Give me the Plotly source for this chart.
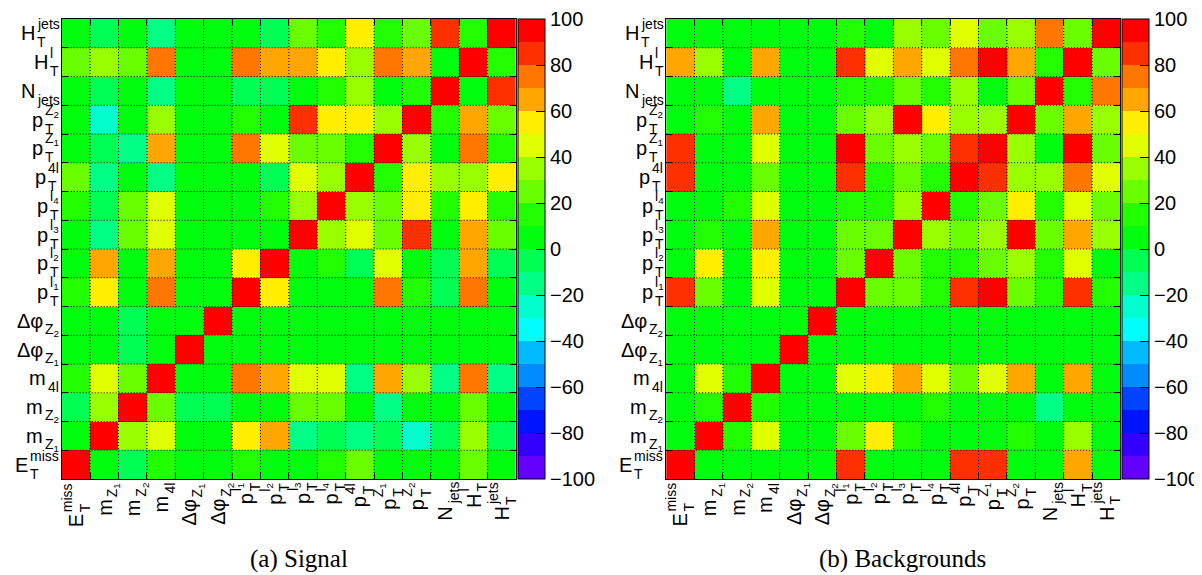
import colorsys
import plotly.graph_objects as go

# ---------------- data ----------------
# variables, bottom-to-top on y and left-to-right on x
var_base = ["E", "m", "m", "m", "Δφ", "Δφ", "p", "p", "p", "p", "p", "p", "p", "N", "H", "H"]
var_sub = ["T", "Z<sub>1</sub>", "Z<sub>2</sub>", "4l", "Z<sub>1</sub>", "Z<sub>2</sub>",
           "T", "T", "T", "T", "T", "T", "T", "jets", "T", "T"]
var_sup = ["miss", "", "", "", "", "", "l<sub>1</sub>", "l<sub>2</sub>", "l<sub>3</sub>",
           "l<sub>4</sub>", "4l", "Z<sub>1</sub>", "Z<sub>2</sub>", "", "l", "jets"]

# correlation (%) upper triangles: row i holds values for columns i+1 .. 15
signal_upper = [
    [4, -5, 13, 4, 3, 14, 6, 5, 12, 25, 9, 9, 5, 25, 8],          # E_T^miss
    [35, 45, 3, 3, 55, 65, -15, -5, -15, -5, -25, -5, 35, -5],     # m_Z1
    [25, -5, -5, 5, 8, 25, 25, 5, -13, 5, 5, 25, 5],               # m_Z2
    [5, 5, 75, 65, 45, 45, -15, 65, 35, -15, 75, -15],             # m_4l
    [3, 3, 2, 2, 3, 2, 3, 2, 2, 3, 2],                             # dphi_Z1
    [2, 3, 2, 2, 3, 2, 2, 3, 2, 2],                                # dphi_Z2
    [55, 5, 5, 5, 75, 12, -5, 75, 5],                              # pT l1
    [5, 15, -5, 45, 5, -5, 65, -5],                                # pT l2
    [35, 45, 25, 85, 8, 65, 25],                                   # pT l3
    [35, 25, 55, 15, 55, 15],                                      # pT l4
    [15, 55, 35, 35, 55],                                          # pT 4l
    [35, 5, 75, 15],                                               # pT Z1
    [15, 65, 25],                                                  # pT Z2
    [5, 85],                                                       # N jets
    [15],                                                          # HT l
]
background_upper = [
    [5, 5, 5, 3, 3, 85, 5, 5, 5, 85, 85, 5, 5, 65, 5],             # E_T^miss
    [15, 45, 3, 3, 25, 55, 15, 5, 5, 10, 15, 5, 35, 5],            # m_Z1
    [15, 3, 3, 5, 5, 5, 12, 5, 5, 5, -15, 5, 5],                   # m_Z2
    [3, 3, 45, 55, 65, 45, 25, 45, 65, 5, 65, 10],                 # m_4l
    [2, 2, 2, 2, 2, 2, 2, 2, 2, 2, 2],                             # dphi_Z1
    [2, 2, 2, 2, 2, 2, 2, 2, 2, 2],                                # dphi_Z2
    [25, 25, 15, 85, 95, 25, 15, 85, 15],                          # pT l1
    [25, 12, 15, 25, 35, 12, 45, 10],                              # pT l2
    [35, 25, 35, 95, 25, 65, 35],                                  # pT l3
    [12, 25, 55, 15, 45, 25],                                      # pT l4
    [85, 35, 35, 75, 45],                                          # pT 4l
    [35, 10, 95, 25],                                              # pT Z1
    [25, 65, 35],                                                  # pT Z2
    [15, 75],                                                      # N jets
    [25],                                                          # HT l
]
diag_value = 100
colorbar_ticks = [-100, -80, -60, -40, -20, 0, 20, 40, 60, 80, 100]
captions = ["(a) Signal", "(b) Backgrounds"]


def full_matrix(upper):
    n = len(upper) + 1
    m = [[0] * n for _ in range(n)]
    for i in range(n):
        m[i][i] = diag_value
    for i, row in enumerate(upper):
        for k, v in enumerate(row):
            j = i + 1 + k
            m[i][j] = v
            m[j][i] = v
    return m


signal = full_matrix(signal_upper)
background = full_matrix(background_upper)
N = len(var_base)

# ---------------- style ----------------
W, H = 1202, 575
TOP, BOT = 11, 471
panels = [dict(x0=54, x1=511, cb=513, cap=293), dict(x0=662, x1=1119, cb=1121, cap=900)]
FONT = "Liberation Sans"

# ROOT "pretty" palette with 20 contour levels
palette = []
for k in range(20):
    idx = int((k + 0.99) * 50 / 20)
    hue = 280 - (idx + 1) * 280 / 50
    r, g, b = colorsys.hls_to_rgb(hue / 360.0, 0.5, 1.0)
    palette.append(f"rgb({round(r*255)},{round(g*255)},{round(b*255)})")
colorscale = []
for k, c in enumerate(palette):
    colorscale.append([k / 20, c])
    colorscale.append([(k + 1) / 20, c])

CW = {'E': .667, 'T': .611, 'm': .833, 'i': .222, 's': .5, 'Z': .611, '1': .556, '2': .556,
      '3': .556, '4': .556, 'l': .222, 'j': .222, 'e': .556, 't': .278}


def tw(s, size):
    w, scale, i = 0.0, 1.0, 0
    while i < len(s):
        if s.startswith('<sub>', i):
            scale = 0.7; i += 5; continue
        if s.startswith('</sub>', i):
            scale = 1.0; i += 6; continue
        w += CW.get(s[i], .6) * size * scale
        i += 1
    return w


BASE_SZ, SCR_SZ = 20, 14
SHIFT = 9
fig = go.Figure()
annotations = []
shapes = []

for p, (panel, mat) in enumerate(zip(panels, [signal, background])):
    xa = 'x' if p == 0 else 'x2'
    ya = 'y' if p == 0 else 'y2'
    fig.add_trace(go.Heatmap(
        z=mat, x=list(range(N)), y=list(range(N)), xaxis=xa, yaxis=ya,
        zmin=-100, zmax=100, colorscale=colorscale, hoverinfo='skip',
        colorbar=dict(x=panel['cb'] / W, xanchor='left', y=(H - BOT) / H, yanchor='bottom',
                      len=(BOT - TOP) / H, lenmode='fraction', thickness=27, thicknessmode='pixels',
                      outlinewidth=1, outlinecolor='black', tickmode='array', tickvals=colorbar_ticks,
                      ticks='inside', ticklen=9, tickwidth=1, tickcolor='black',
                      tickfont=dict(family=FONT, size=20, color='black'), xpad=0, ypad=0),
    ))
    axcfg = dict(range=[-0.5, N - 0.5], showticklabels=False, tickmode='array',
                 tickvals=[k - 0.5 for k in range(N + 1)], ticks='inside', ticklen=6, tickwidth=1,
                 tickcolor='black', showline=True, linecolor='black', linewidth=1, mirror='ticks',
                 showgrid=False, zeroline=False, layer='above traces', fixedrange=True)
    sfx = '' if p == 0 else '2'
    fig.update_layout(**{
        'xaxis' + sfx: dict(axcfg, domain=[panel['x0'] / W, panel['x1'] / W], anchor=ya),
        'yaxis' + sfx: dict(axcfg, domain=[(H - BOT) / H, (H - TOP) / H], anchor=xa),
    })
    # dotted grid at cell boundaries
    for k in range(1, N):
        shapes.append(dict(type='line', xref=xa, yref=ya, x0=k - 0.5, x1=k - 0.5, y0=-0.5, y1=N - 0.5,
                           line=dict(color='black', width=1, dash='1px,2px'), layer='above'))
        shapes.append(dict(type='line', xref=xa, yref=ya, y0=k - 0.5, y1=k - 0.5, x0=-0.5, x1=N - 0.5,
                           line=dict(color='black', width=1, dash='1px,2px'), layer='above'))
    # axis labels
    for i in range(N):
        base, sub, sup = var_base[i], var_sub[i], var_sup[i]
        sw = max(tw(sub, SCR_SZ), tw(sup, SCR_SZ))
        # y labels
        off = 4 + sw
        common = dict(showarrow=False, borderpad=0, xref='paper', yref=ya, x=panel['x0'] / W, y=i)
        annotations.append(dict(common, text=base, xanchor='right', yanchor='middle', xshift=-off,
                                font=dict(family=FONT, size=BASE_SZ, color='black')))
        if sub:
            annotations.append(dict(common, text=sub, xanchor='left', yanchor='middle', xshift=-off,
                                    yshift=-SHIFT, font=dict(family=FONT, size=SCR_SZ, color='black')))
        if sup:
            annotations.append(dict(common, text=sup, xanchor='left', yanchor='middle', xshift=-off,
                                    yshift=SHIFT, font=dict(family=FONT, size=SCR_SZ, color='black')))
        # x labels (rotated)
        off = 5 + sw
        common = dict(showarrow=False, borderpad=0, xref=xa, yref='paper', x=i, y=(H - BOT) / H,
                      textangle=-90)
        annotations.append(dict(common, text=base, xanchor='center', yanchor='top', yshift=-off,
                                font=dict(family=FONT, size=BASE_SZ, color='black')))
        if sub:
            annotations.append(dict(common, text=sub, xanchor='center', yanchor='bottom', yshift=-off,
                                    xshift=SHIFT, font=dict(family=FONT, size=SCR_SZ, color='black')))
        if sup:
            annotations.append(dict(common, text=sup, xanchor='center', yanchor='bottom', yshift=-off,
                                    xshift=-SHIFT, font=dict(family=FONT, size=SCR_SZ, color='black')))
    annotations.append(dict(text=captions[p], showarrow=False, xref='paper', yref='paper',
                            x=panel['cap'] / W, y=(H - 551) / H, xanchor='center', yanchor='middle',
                            font=dict(family='Liberation Serif', size=25, color='black')))

fig.update_layout(width=W, height=H, autosize=False, margin=dict(l=0, r=0, t=0, b=0),
                  paper_bgcolor='white', plot_bgcolor='white', showlegend=False,
                  annotations=annotations, shapes=shapes)
fig.write_html("out.html")
